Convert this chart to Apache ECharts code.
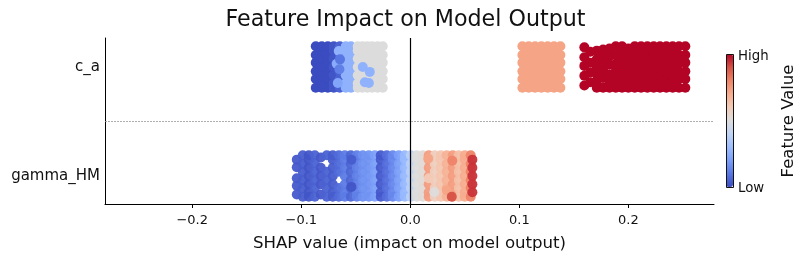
<!DOCTYPE html>
<html><head><meta charset="utf-8">
<style>html,body{margin:0;padding:0;background:#fff}#c{width:811px;height:261px}</style>
<script src="https://cdn.jsdelivr.net/npm/echarts@6/dist/echarts.min.js"></script>
</head><body><div id="c"></div>
<script>
const features = ['gamma_HM', 'c_a'];
const xTicks = [-0.2, -0.1, 0, 0.1, 0.2];
const coolwarm = ['#3b4cc0','#5977e3','#7b9ff9','#9ebeff','#c0d4f5','#dddcdc','#f2cbb7','#f7ac8e','#ee8468','#d65244','#b40426'];

// each column: [shap, feature value, jitter, jitter, ...]
const caColumns = [
 [-0.0867,0.0,-.19,-.11,-.04,.04,.11,.19],
 [-0.0812,0.0,-.19,-.15,-.075,0,.075,.15,.19],
 [-0.0757,0.0,-.19,-.11,-.04,.04,.11,.19],
 [-0.0702,0.02,-.19,-.15,-.075,0,.075,.15,.19],
 [-0.0647,0.05,-.19,-.11,-.04,.04,.11,.19],
 [-0.0592,0.26,-.19,-.15,-.075,0,.075,.15,.19],
 [-0.0545,0.26,-.19,-.11,-.04,.04,.11,.19],
 [-0.0482,0.5,-.19,-.15,-.075,0,.075,.15,.19],
 [-0.0440,0.5,-.19,-.11,-.04,.04,.11,.19],
 [-0.0395,0.5,-.19,-.15,-.075,0,.075,.15,.19],
 [-0.0350,0.5,-.19,-.11,-.04,.04,.11,.19],
 [-0.0300,0.5,-.19,-.15,-.075,0,.075,.15,.19],
 [-0.0253,0.5,-.19,-.11,-.04,.04,.11,.19],
 [0.1028,0.72,-.19,-.11,-.04,.04,.11,.19],
 [0.1086,0.72,-.19,-.15,-.075,0,.075,.15,.19],
 [0.1144,0.72,-.19,-.11,-.04,.04,.11,.19],
 [0.1202,0.72,-.19,-.15,-.075,0,.075,.15,.19],
 [0.1260,0.72,-.19,-.11,-.04,.04,.11,.19],
 [0.1318,0.72,-.19,-.15,-.075,0,.075,.15,.19],
 [0.1376,0.72,-.19,-.11,-.04,.04,.11,.19],
 [0.1596,1,-.17,-.08,.01,.09,.18],
 [0.1650,1,-.14,-.05,.04,.14],
 [0.1710,1,-.19,-.13,-.07,-.01,.07,.15],
 [0.1768,1,-.19,-.1,-.03,.05,.12,.16],
 [0.1826,1,-.19,-.15,-.07,.02,.1,.17],
 [0.1884,1,-.19,-.12,-.04,.03,.11,.19],
 [0.1942,1,-.19,-.15,-.08,0,.07,.15,.19],
 [0.2000,1,-.19,-.11,-.04,.04,.11,.17],
 [0.2058,1,-.19,-.15,-.075,0,.075,.15,.19],
 [0.2116,1,-.19,-.11,-.04,.04,.11,.19],
 [0.2174,1,-.19,-.15,-.075,0,.075,.15,.19],
 [0.2232,1,-.19,-.11,-.04,.04,.11,.19],
 [0.2290,1,-.19,-.15,-.075,0,.075,.15,.19],
 [0.2348,1,-.19,-.11,-.04,.04,.11,.19],
 [0.2406,1,-.19,-.15,-.075,0,.075,.15,.19],
 [0.2464,1,-.19,-.11,-.04,.04,.11,.19],
 [0.2522,1,-.19,-.11,-.04,.04,.11,.19]
];
// individual points that sit on top of the columns: [shap, jitter, feature value]
const caAccents = [
 [-0.0656,.147,0.26],[-0.0675,.03,0.24],[-0.0665,-.147,0.22],[-0.0650,-.02,0.12],[-0.0645,.07,0.1],
 [-0.0436,0,0.26],[-0.0372,-.045,0.26],[-0.0417,-.14,0.26],[-0.0380,-.147,0.26]
];
const gammaColumns = [
 [-0.1041,0.03,-.17,-.09,-.02,.08,.15],
 [-0.0986,0.04,-.19,-.11,-.04,.04,.11,.19],
 [-0.0931,0.02,-.19,-.15,-.075,0,.075,.15,.19],
 [-0.0876,0.05,-.19,-.11,-.04,.04,.12,.19],
 [-0.0821,0.03,-.17,-.075,0,.075,.17],
 [-0.0766,0.05,-.19,-.11,-.04,.04,.19],
 [-0.0711,0.04,-.19,-.15,-.075,0,.075,.15,.19],
 [-0.0656,0.07,-.19,-.11,.04,.11,.19],
 [-0.0601,0.11,-.19,-.15,-.075,0,.075,.15,.19],
 [-0.0546,0.06,-.19,-.11,-.04,.04,.11,.19],
 [-0.0491,0.12,-.19,-.15,-.075,0,.075,.15,.19],
 [-0.0436,0.16,-.19,-.11,-.04,.04,.11,.19],
 [-0.0381,0.17,-.19,-.15,-.075,0,.075,.15,.19],
 [-0.0326,0.2,-.19,-.11,-.04,.04,.11,.19],
 [-0.0271,0.03,-.19,-.15,-.075,0,.075,.15,.19],
 [-0.0216,0.08,-.19,-.11,-.04,.04,.11,.19],
 [-0.0161,0.14,-.19,-.15,-.075,0,.075,.15,.19],
 [-0.0106,0.2,-.19,-.11,-.04,.04,.11,.19],
 [-0.0051,0.28,-.19,-.15,-.075,0,.075,.15,.19],
 [0.0004,0.38,-.19,-.11,-.04,.04,.11,.19],
 [0.0059,0.5,-.19,-.15,-.075,0,.075,.15,.19],
 [0.0114,0.52,-.19,-.11,-.04,.04,.11,.19],
 [0.0169,0.74,-.19,-.15,-.075,0,.075,.15,.19],
 [0.0224,0.58,-.19,-.11,-.04,.04,.11,.19],
 [0.0279,0.62,-.19,-.15,-.075,0,.075,.15,.19],
 [0.0334,0.68,-.19,-.11,-.04,.04,.11,.19],
 [0.0389,0.74,-.19,-.15,-.075,0,.075,.15,.19],
 [0.0444,0.64,-.19,-.11,-.04,.04,.11,.19],
 [0.0499,0.7,-.19,-.15,-.075,0,.075,.15,.19],
 [0.0554,0.8,-.19,-.11,-.04,.04,.11,.19],
 [0.0569,0.94,-.15,-.075,0,.075,.15]
];
const gammaAccents = [
 [0.0165,.16,0.72],[0.0170,-.02,0.6],[0.0335,-.13,0.72],[0.0385,.14,0.8],
 [0.0380,-.19,0.9],[0.0220,-.15,0.5],[-0.0540,-.1,0.02],[-0.0540,.15,0.04]
];

function buildPoints(cols, accents, row) {
  const out = [];
  cols.forEach(c => c.slice(2).forEach(j => out.push([c[0], row + j, c[1]])));
  accents.forEach(p => out.push([p[0], row + p[1], p[2]]));
  return out;
}
const caPoints = buildPoints(caColumns, caAccents, 1);
const gammaPoints = buildPoints(gammaColumns, gammaAccents, 0);

const font = 'DejaVu Sans';
const chart = echarts.init(document.getElementById('c'), null, {renderer: 'canvas'});
chart.setOption({
  animation: false,
  backgroundColor: '#fff',
  title: {text: 'Feature Impact on Model Output', left: 'center', top: 4,
    textStyle: {fontFamily: font, fontSize: 22.2, fontWeight: 'normal', color: '#111'}},
  grid: {left: 105, right: 97, top: 38, bottom: 57},
  xAxis: {
    type: 'value', min: -0.28, max: 0.2785,
    name: 'SHAP value (impact on model output)', nameLocation: 'middle', nameGap: 31,
    nameTextStyle: {fontFamily: font, fontSize: 16.6, color: '#111'},
    axisLine: {show: true, onZero: false, lineStyle: {color: '#000', width: 1}},
    axisTick: {show: true, length: 4, customValues: xTicks, lineStyle: {color: '#000'}},
    axisLabel: {customValues: xTicks, margin: 10, fontFamily: font, fontSize: 13, color: '#111',
      formatter: v => (v === 0 ? '0.0' : (v < 0 ? '\u2212' : '') + Math.abs(v).toFixed(1))},
    splitLine: {show: false}
  },
  yAxis: {
    type: 'value', min: -0.257, max: 1.266,
    axisLine: {show: true, onZero: false, lineStyle: {color: '#000', width: 1}},
    axisTick: {show: false},
    axisLabel: {customValues: [0, 1], margin: 5, padding: [4, 0, 0, 0], fontFamily: font, fontSize: 15, color: '#111',
      formatter: v => features[Math.round(v)]},
    splitLine: {show: false}
  },
  visualMap: {
    type: 'continuous', dimension: 2, seriesIndex: [0, 1], min: 0, max: 1, calculable: false,
    orient: 'vertical', left: 726, top: 54, itemWidth: 7, itemHeight: 133, padding: 0,
    text: null, inRange: {color: coolwarm}, hoverLink: false
  },
  series: [{
    type: 'scatter', data: caPoints, symbolSize: 10, z: 3, itemStyle: {opacity: 1},
    markLine: {
      silent: true, symbol: 'none', label: {show: false}, animation: false,
      data: [
        [{coord: [0, -0.257], lineStyle: {color: '#000', width: 1.2, type: 'solid'}}, {coord: [0, 1.266]}],
        [{coord: [-0.28, 0.5], lineStyle: {color: '#999', width: 0.8, type: [2, 1]}}, {coord: [0.2785, 0.5]}]
      ]
    }
  }, {
    type: 'scatter', data: gammaPoints, symbolSize: 10, z: 3, itemStyle: {opacity: 0.95}
  }],
  graphic: [
    {type: 'rect', shape: {x: 726.5, y: 54.5, width: 7, height: 133}, style: {fill: 'none', stroke: '#111', lineWidth: 1}, z: 100},
    {type: 'text', x: 738, y: 57, style: {text: 'High', fill: '#111', font: '13.3px "DejaVu Sans"', textVerticalAlign: 'middle'}},
    {type: 'text', x: 738, y: 189, style: {text: 'Low', fill: '#111', font: '13.3px "DejaVu Sans"', textVerticalAlign: 'middle'}},
    {type: 'text', x: 789, y: 121, rotation: Math.PI / 2, style: {text: 'Feature Value', fill: '#111', font: '16.5px "DejaVu Sans"', textAlign: 'center', textVerticalAlign: 'middle'}}
  ]
});
</script></body></html>
